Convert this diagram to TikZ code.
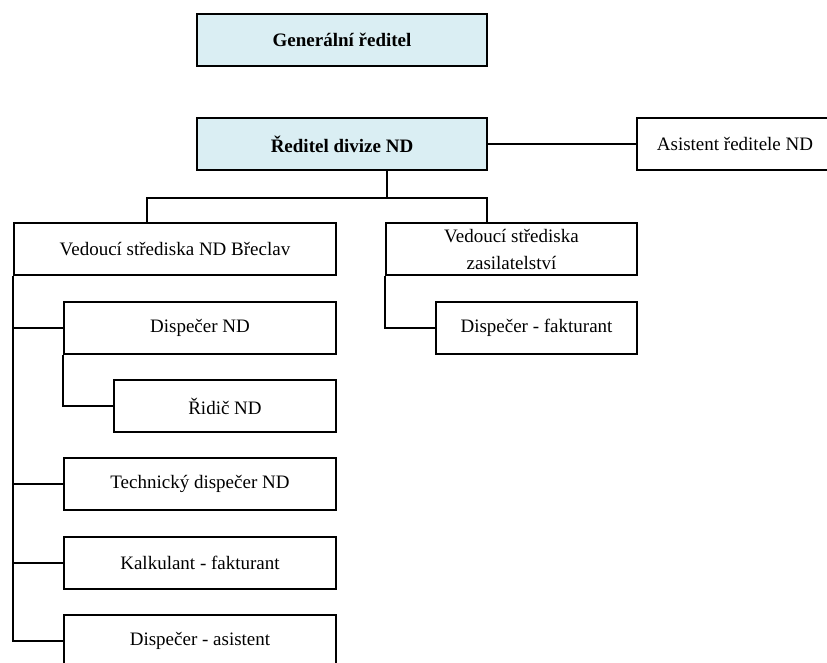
\documentclass[tikz,border=0pt]{standalone}
\usepackage{fontspec}
\setmainfont{Liberation Serif}
\definecolor{headblue}{HTML}{DAEEF3}
\begin{document}
\begin{tikzpicture}[x=1pt,y=-1pt, line width=2pt,
  box/.style={draw, rectangle, inner sep=0pt, align=center,
    font={\fontsize{19}{27}\selectfont}},
  head/.style={box, fill=headblue, font={\fontsize{19}{27}\selectfont\bfseries}}]
\useasboundingbox (0,0) rectangle (827,662);
\node[head, minimum width=290, minimum height=52] (gen) at (342,40){Generální ředitel};
\node[head, minimum width=290, minimum height=52] (red) at (342,144){Ředitel divize ND};
\node[box, minimum width=196, minimum height=52] (asist) at (735,144){Asistent ředitele ND};
\draw[](red) -- (asist);
\node[box, minimum width=322, minimum height=52] (vedND) at (175,249){Vedoucí střediska ND Břeclav};
\node[box, minimum width=251, minimum height=52] (vedZas) at (511.5,249){Vedoucí střediska\\zasilatelství};
\coordinate (busL) at (147,198);
\coordinate (busR) at (487,198);
\coordinate (busM) at (387,198);
\draw[](red.south -| busM) -- (busM);
\draw[](vedND.north -| busL) -- (busL) -- (busR) -- (vedZas.north -| busR);
\node[box, minimum width=201, minimum height=52] (dispFakt) at (536.5,328){Dispečer - fakturant};
\draw[](vedZas.south west) |- (dispFakt.west);
\node[box, minimum width=272, minimum height=52] (dispND) at (200,328){Dispečer ND};
\node[box, minimum width=222, minimum height=52] (ridic) at (225,406){Řidič ND};
\draw[](dispND.south west) |- (ridic.west);
\node[box, minimum width=272, minimum height=52] (tech) at (200,484){Technický dispečer ND};
\node[box, minimum width=272, minimum height=52] (kalk) at (200,563){Kalkulant - fakturant};
\node[box, minimum width=272, minimum height=52] (dispAsist) at (200,641){Dispečer - asistent};
\draw[](vedND.south west) |- (dispAsist.west);
\foreach \n in {dispND,tech,kalk}
  \draw[](vedND.south west |- \n.west) -- (\n.west);
\end{tikzpicture}
\end{document}
